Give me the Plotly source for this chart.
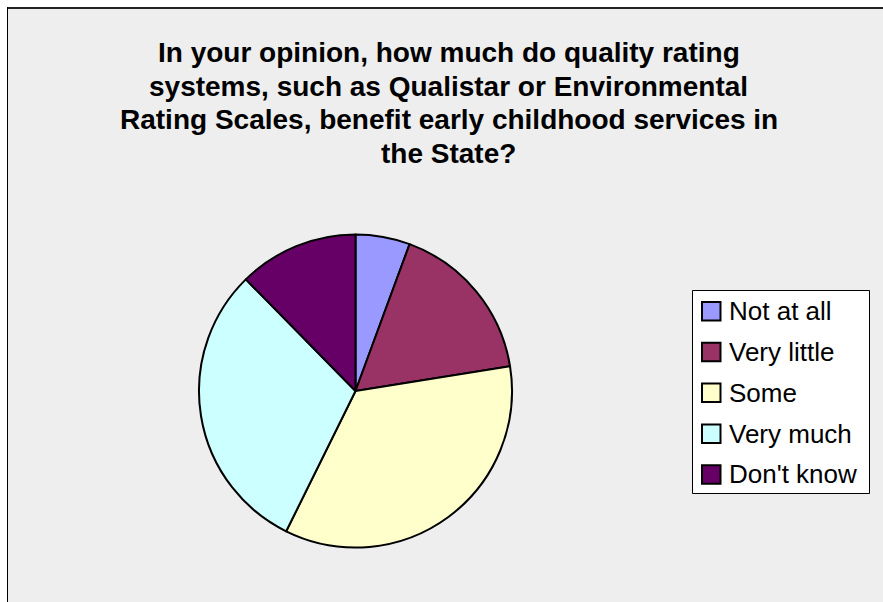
import plotly.graph_objects as go

labels = ["Not at all", "Very little", "Some", "Very much", "Don't know"]
values = [5, 15, 31, 27, 11]
colors = ["#9999FF", "#993366", "#FFFFCC", "#CCFFFF", "#660066"]
title_lines = [
    "In your opinion, how much do quality rating",
    "systems, such as Qualistar or Environmental",
    "Rating Scales, benefit early childhood services in",
    "the State?",
]

W, H = 883, 602
px = lambda x: x / W
py = lambda y: 1 - y / H

cx, cy, r = 355.5, 391.0, 156.5

fig = go.Figure()
fig.add_trace(go.Pie(
    labels=labels, values=values, sort=False, direction="clockwise", rotation=0,
    marker=dict(colors=colors, line=dict(color="black", width=2)),
    textinfo="none", hoverinfo="label+value", showlegend=False,
    domain=dict(x=[px(cx - r), px(cx + r)], y=[py(cy + r), py(cy - r)]),
))

shapes = [
    dict(type="rect", xref="paper", yref="paper", x0=px(7), x1=1.02, y0=-0.02, y1=py(7),
         fillcolor="#EEEEEE", line=dict(width=0), layer="below"),
    dict(type="line", xref="paper", yref="paper", x0=px(7), x1=1.02, y0=py(8), y1=py(8),
         line=dict(color="#222222", width=2), layer="below"),
    dict(type="line", xref="paper", yref="paper", x0=px(7.5), x1=px(7.5), y0=-0.02, y1=py(7),
         line=dict(color="black", width=1), layer="below"),
    # legend box
    dict(type="rect", xref="paper", yref="paper", x0=px(692.5), x1=px(869.5), y0=py(493.5), y1=py(290.5),
         fillcolor="white", line=dict(color="black", width=1), layer="below"),
]
annotations = []
title_centers = [53, 86.5, 120, 153.5]
for line, yc in zip(title_lines, title_centers):
    annotations.append(dict(text="<b>%s</b>" % line, x=px(448.5), y=py(yc), xref="paper", yref="paper",
                            xanchor="center", yanchor="middle", showarrow=False,
                            font=dict(family="Liberation Sans", size=28, color="black")))

leg_top, pitch, sq = 302.0, 40.8, 18.5
for i, (lab, col) in enumerate(zip(labels, colors)):
    t = leg_top + i * pitch
    shapes.append(dict(type="rect", xref="paper", yref="paper", x0=px(702), x1=px(702 + sq),
                       y0=py(t + sq), y1=py(t), fillcolor=col, line=dict(color="black", width=2)))
    annotations.append(dict(text=lab, x=px(727), y=py(t + sq / 2), xref="paper", yref="paper",
                            xanchor="left", yanchor="middle", showarrow=False,
                            font=dict(family="Liberation Sans", size=26, color="black")))

fig.update_layout(
    width=W, height=H, margin=dict(l=0, r=0, t=0, b=0),
    paper_bgcolor="white", plot_bgcolor="white",
    shapes=shapes, annotations=annotations, showlegend=False,
)
fig.write_html("out.html", config={"displayModeBar": False},
               post_script="document.body.style.margin='0px';")
